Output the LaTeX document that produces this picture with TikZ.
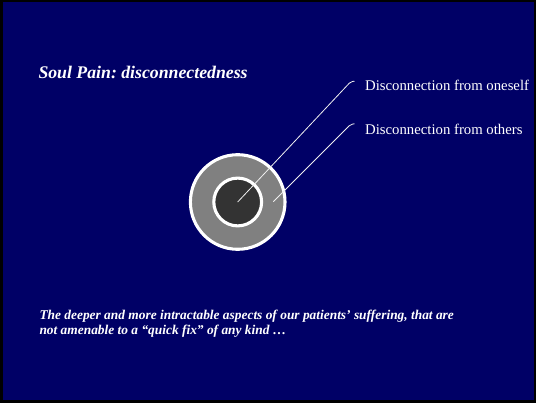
\documentclass[tikz,border=0pt]{standalone}
\usepackage{fontspec}
\setmainfont{Liberation Serif}
\definecolor{navy}{RGB}{0,0,102}
\definecolor{ringgray}{RGB}{128,128,128}
\definecolor{coregray}{RGB}{51,51,51}
\begin{document}
\frenchspacing
\begin{tikzpicture}[x=1pt,y=-1pt,
  ringstyle/.style={circle, draw=white, line width=3.1pt, inner sep=0pt},
  leader/.style={draw=white!88!gray, line width=0.8pt, rounded corners=2pt},
  labelstyle/.style={text=white, font=\fontsize{14.75}{17}\selectfont, anchor=base west, inner sep=0pt},
  titlestyle/.style={text=white, font=\fontsize{17.75}{21}\selectfont\bfseries\itshape, anchor=base west, inner sep=0pt},
  notestyle/.style={text=white, font=\fontsize{13.4}{15}\selectfont\bfseries\itshape, anchor=base west, inner sep=0pt}]
\fill[black] (0,0) rectangle (536,403);
\fill[navy] (3,2) rectangle (534,400);
\useasboundingbox (0,0) rectangle (536,403);

\node[titlestyle] (title) at (38.3,79) {Soul Pain: disconnectedness};

\node[ringstyle, fill=ringgray, minimum size=94.6pt] (outer) at (237.7,202) {};
\node[ringstyle, fill=coregray, minimum size=47.8pt] (inner) at (outer.center) {};

\node[labelstyle] (lab1) at (365,91) {Disconnection from oneself};
\node[labelstyle] (lab2) at (365,135) {Disconnection from others};

\coordinate (s2) at (273.3,201.7);
\coordinate (k1) at (350.7,81.7);
\coordinate (e1) at (354.5,81.2);
\coordinate (k2) at (350.7,124.3);
\coordinate (e2) at (354.5,123.8);

\draw[leader] (inner.center) -- (k1) -- (e1);
\draw[leader] (s2) -- (k2) -- (e2);

\node[notestyle] (note1) at (39.3,319.3) {The deeper and more intractable aspects of our patients’ suffering, that are};
\node[notestyle] (note2) at (39.3,334.3) {not amenable to a “quick fix” of any kind …};
\end{tikzpicture}
\end{document}
